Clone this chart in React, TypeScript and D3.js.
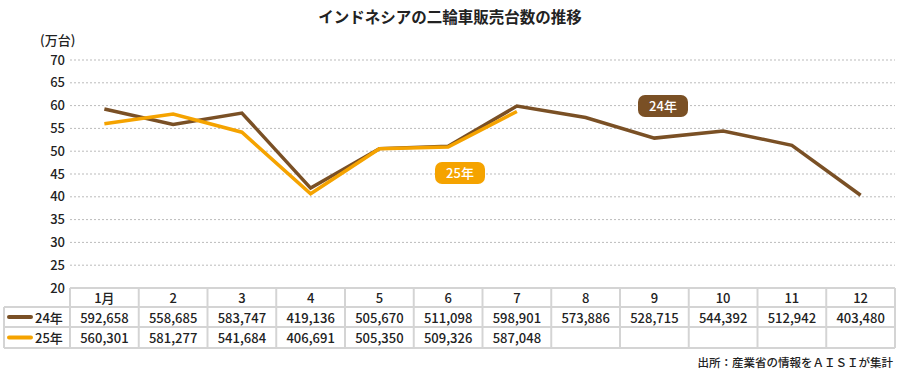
import React from "react";
import * as d3 from "d3";

const months = ["1月", "2", "3", "4", "5", "6", "7", "8", "9", "10", "11", "12"];
const sales24 = [592658, 558685, 583747, 419136, 505670, 511098, 598901, 573886, 528715, 544392, 512942, 403480];
const sales25 = [560301, 581277, 541684, 406691, 505350, 509326, 587048];
const yTicks = [20, 25, 30, 35, 40, 45, 50, 55, 60, 65, 70];
const seriesNames = ["24年", "25年"];
const colors = ["#7a5025", "#f5a300"];

const W = 900;
const H = 375;
const FONT = "'Noto Sans CJK JP', 'Noto Sans', sans-serif";

export default function App() {
  const x = d3.scaleBand<string>().domain(months).range([70, 895]);
  const y = d3.scaleLinear().domain([20, 70]).range([288, 60]);
  const cx = (i: number) => (x(months[i]) as number) + x.bandwidth() / 2;
  const line = d3
    .line<number>()
    .x((_, i) => cx(i))
    .y((d) => y(d / 10000));
  const fmt = d3.format(",");
  const rowTop = [288, 307, 327, 348];
  const series = [sales24, sales25];
  const gridColor = "#d4d4d4";

  return (
    <svg width={W} height={H} style={{ position: "absolute", left: 0, top: 0 }} fontFamily={FONT} fontWeight={500}>
      <rect width={W} height={H} fill="#fff" />
      <text x={450} y={23} textAnchor="middle" fontSize={15.5} fontWeight="bold" fill="#222">
        インドネシアの二輪車販売台数の推移
      </text>
      <text x={40} y={45} fontSize={13} fill="#222">(万台)</text>
      {yTicks.map((t) => (
        <g key={t}>
          {t > 20 && (
            <line x1={70} x2={895} y1={y(t)} y2={y(t)} stroke="#bbb" strokeDasharray="2,2" strokeWidth={1} />
          )}
          <text x={65} y={y(t)} dy="0.35em" textAnchor="end" fontSize={13} fill="#222">
            {t}
          </text>
        </g>
      ))}
      {series.map((s, k) => (
        <path key={k} d={line(s) || ""} fill="none" stroke={colors[k]} strokeWidth={3.5} strokeLinejoin="miter" />
      ))}
      <g>
        <rect x={638} y={95} width={50} height={22} rx={7} fill={colors[0]} />
        <text x={663} y={106} dy="0.35em" textAnchor="middle" fontSize={13} fill="#fff">{seriesNames[0]}</text>
        <rect x={435} y={162} width={50} height={22} rx={7} fill={colors[1]} />
        <text x={460} y={173} dy="0.35em" textAnchor="middle" fontSize={13} fill="#fff">{seriesNames[1]}</text>
      </g>
      <g stroke={gridColor} strokeWidth={2} fill="none">
        <line x1={70} x2={895} y1={rowTop[0]} y2={rowTop[0]} />
        <line x1={4} x2={895} y1={rowTop[1]} y2={rowTop[1]} />
        <line x1={4} x2={895} y1={rowTop[2]} y2={rowTop[2]} />
        <line x1={4} x2={895} y1={rowTop[3]} y2={rowTop[3]} />
        <line x1={4} x2={4} y1={rowTop[1]} y2={rowTop[3]} />
        {months.map((m) => (
          <line key={m} x1={x(m)} x2={x(m)} y1={rowTop[0]} y2={rowTop[3]} />
        ))}
        <line x1={895} x2={895} y1={rowTop[0]} y2={rowTop[3]} />
      </g>
      {months.map((m, i) => (
        <text key={m} x={cx(i)} y={(rowTop[0] + rowTop[1]) / 2 + 1} dy="0.35em" textAnchor="middle" fontSize={13} fill="#222">
          {m}
        </text>
      ))}
      {series.map((s, k) => (
        <g key={k}>
          <line x1={9} x2={31} y1={(rowTop[k + 1] + rowTop[k + 2]) / 2} y2={(rowTop[k + 1] + rowTop[k + 2]) / 2} stroke={colors[k]} strokeWidth={4} strokeLinecap="round" />
          <text x={35} y={(rowTop[k + 1] + rowTop[k + 2]) / 2 + 1} dy="0.35em" fontSize={13} fill="#222">
            {seriesNames[k]}
          </text>
          {s.map((v, i) => (
            <text key={i} x={cx(i)} y={(rowTop[k + 1] + rowTop[k + 2]) / 2 + 1} dy="0.35em" textAnchor="middle" fontSize={13} fill="#222">
              {fmt(v)}
            </text>
          ))}
        </g>
      ))}
      <text x={893} y={367} textAnchor="end" fontSize={11.5} fill="#222">
        出所：産業省の情報をＡＩＳＩが集計
      </text>
    </svg>
  );
}
